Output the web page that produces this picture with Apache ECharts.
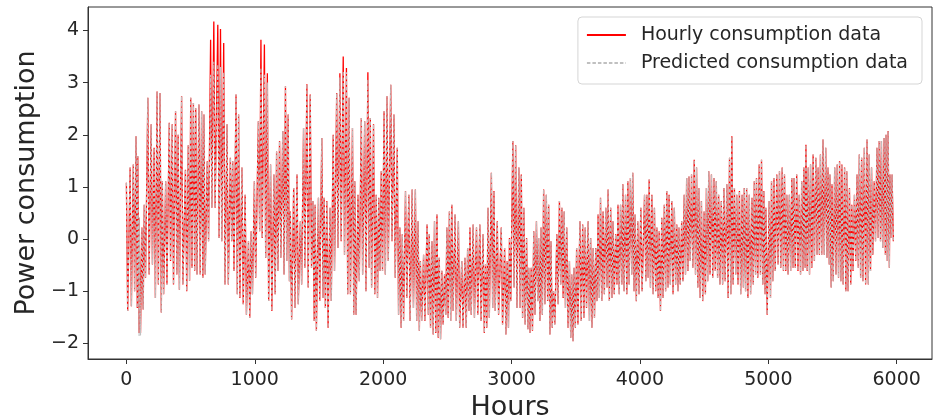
<!DOCTYPE html>
<html><head><meta charset="utf-8">
<script src="https://cdn.jsdelivr.net/npm/echarts@6/dist/echarts.min.js"></script>
<style>html,body{margin:0;padding:0;background:#fff}#c{width:933px;height:417px}</style>
</head><body><div id="c"></div>
<script>
// Hour of each daily reading (high value at this hour, low value half a day later)
const hours = [
0,29,54,75,89,100,121,139,167,193,216,239,262,280,306,334,357,383,403,430,
460,482,501,522,540,565,586,604,630,656,681,712,733,758,784,810,828,854,874,900,
925,951,972,997,
1028,1048,1075,1098,1123,1149,1170,1193,1218,1239,1260,1277,1303,1329,1355,1380,1406,1432,1453,1470,
1496,1522,1540,1561,1586,1611,1638,1663,1689,1714,1735,1761,1779,1804,1830,1856,1881,1900,1925,1946,
1966,1985,
2007,2030,2059,2084,2110,2130,2149,2174,2200,2226,2251,2272,2290,2315,2342,2359,2380,2400,2419,2437,
2457,2478,2496,2516,2535,2560,2586,2612,2637,2658,2676,2701,2727,2753,2778,2797,2817,2843,2863,2889,
2920,2946,2966,2984,
3010,3032,3057,3076,3096,3117,3134,3153,3173,3194,3211,3230,3250,3271,3289,3307,3327,3353,3373,3392,
3410,3430,3451,3469,3487,3507,3533,3554,3574,3597,3616,3636,3656,3674,3693,3713,3734,3752,3772,3790,
3811,3829,3849,3867,3888,3906,3926,3944,3962,3983,
4007,4036,4054,4072,4093,4113,4132,4150,4170,4190,4209,4227,4248,4268,4287,4304,4325,4345,4364,4382,
4402,4423,4441,4459,4479,4500,4518,4536,4557,4577,4595,4613,4634,4654,4677,4698,4716,4736,4754,4775,
4796,4813,4831,4852,4873,4891,4908,4929,4947,4965,4981,
5007,5025,5044,5066,5087,5108,5126,5144,5164,5183,5200,5221,5241,5260,5277,5293,5311,5329,5349,5370,
5388,5406,5426,5447,5465,5480,5496,5517,5537,5555,5573,5594,5611,5632,5650,5671,5691,5709,5727,5748,
5769,5786,5804,5825,5846,5864,5881,5902,5917,5933,5948,5964
];
const actualHigh = [
1.08,1.37,1.43,1.97,1.59,0.41,0.22,0.66,2.71,2.20,1.75,2.83,2.80,1.11,1.11,2.23,2.20,2.45,2.00,2.74,
1.33,1.80,2.71,2.61,2.51,2.58,2.45,2.39,1.49,3.82,4.17,4.11,4.03,3.76,2.20,1.56,1.49,2.77,2.39,1.37,
0.85,-0.04,0.15,1.11,
2.26,3.82,3.73,3.18,1.43,1.24,1.68,1.88,2.07,2.93,2.39,0.53,0.98,1.24,0.34,2.13,2.97,2.77,0.73,0.66,
0.79,1.94,0.79,0.73,0.60,2.00,2.80,3.18,3.50,3.28,2.71,2.13,1.11,0.85,2.32,2.26,3.20,2.32,2.20,0.85,
0.79,1.30,
2.45,2.74,2.96,2.39,1.75,0.22,0.09,0.92,0.85,0.95,0.95,0.34,-0.42,-0.30,0.28,0.09,-0.04,0.34,0.47,-0.36,
-0.61,-0.68,0.22,0.53,0.66,0.47,0.34,-0.42,-0.36,-0.17,0.22,0.28,0.22,0.28,0.09,-0.49,0.60,1.27,0.92,0.34,
0.22,-0.17,-0.42,0.02,
1.88,1.80,1.37,1.24,0.60,0.02,-0.55,-0.55,0.15,0.34,0.02,0.22,0.95,0.85,0.66,-0.04,-1.00,0.09,0.73,0.60,
0.53,0.22,-0.42,-0.68,-0.55,-0.17,0.34,0.28,0.22,0.34,0.02,-0.17,-0.17,0.47,0.79,0.53,0.60,0.95,0.60,0.34,
0.09,0.66,0.66,1.05,0.85,1.11,1.17,1.27,0.47,0.34,
0.60,0.85,0.85,1.14,0.85,0.60,0.22,0.15,0.41,0.66,0.92,0.85,0.73,0.60,0.28,0.22,0.34,0.85,1.17,1.20,
1.24,1.52,1.37,0.98,0.73,0.53,0.98,1.30,1.24,1.17,1.11,0.85,0.73,0.98,1.05,1.56,1.97,0.98,0.85,0.92,
0.85,0.98,0.98,0.85,0.79,1.11,1.17,1.43,1.52,0.92,0.60,
0.73,1.11,1.17,1.24,1.30,1.37,1.24,0.85,0.85,1.17,1.17,1.24,0.85,1.11,1.37,1.81,1.37,1.43,1.62,1.56,
1.37,1.62,1.91,1.75,1.37,1.24,1.05,1.37,1.43,1.49,1.43,1.37,1.30,0.98,0.66,0.85,1.24,1.62,1.56,1.75,
1.91,1.62,1.37,1.11,1.75,1.88,1.88,1.94,2.00,2.07,1.24,1.24
];
const actualLow = [
-1.38,-1.29,-1.00,-1.32,-1.80,-1.80,-1.35,-0.74,-0.68,-0.49,-1.13,-0.87,-1.41,-1.06,-0.87,-0.42,-0.87,-0.68,-0.97,-0.87,
-1.00,-0.80,-0.55,-0.61,-0.68,-0.68,-0.74,-0.68,-0.04,0.60,0.60,0.02,-0.04,-0.87,-0.87,-0.04,-0.61,-1.06,-1.13,-1.25,
-1.45,-1.51,-1.06,-0.74,
0.15,0.02,-0.36,-1.19,-1.38,-1.06,-0.61,-0.36,-0.68,-0.42,-0.81,-1.54,-1.32,-1.25,-0.87,-0.55,-0.93,-0.55,-1.57,-1.76,
-1.19,-1.13,-1.32,-1.70,-1.19,-0.61,-0.17,-0.04,-0.30,-1.06,-1.06,-1.45,-1.45,-0.81,-0.68,-1.00,-0.55,-0.93,-1.06,-1.13,
-0.61,-0.61,
-0.68,-0.42,-0.04,-0.74,-1.45,-1.70,-1.57,-1.13,-1.57,-1.32,-1.57,-1.76,-1.57,-1.57,-1.45,-1.70,-1.83,-1.80,-1.89,-1.92,
-1.64,-1.45,-1.51,-1.57,-1.38,-1.57,-1.70,-1.70,-1.70,-1.38,-1.45,-1.51,-1.45,-1.57,-1.80,-1.70,-1.51,-1.32,-1.38,-1.45,
-1.64,-1.83,-1.70,-1.19,
-0.93,-1.32,-1.32,-1.51,-1.64,-1.73,-1.80,-1.76,-1.45,-1.19,-1.57,-1.45,-1.25,-1.19,-1.83,-1.70,-1.64,-1.25,-0.87,-1.13,
-1.32,-1.70,-1.89,-1.96,-1.70,-1.64,-1.57,-1.51,-1.32,-1.57,-1.70,-1.51,-1.19,-1.13,-1.19,-1.06,-0.93,-1.19,-1.13,-1.06,
-0.87,-1.06,-0.87,-1.00,-1.06,-0.87,-0.68,-1.00,-1.19,-1.06,
-1.00,-0.81,-0.74,-0.93,-1.06,-1.00,-1.13,-1.38,-1.13,-1.00,-0.93,-0.87,-1.06,-0.87,-1.00,-0.87,-0.81,-0.68,-0.61,-0.42,
-0.55,-0.68,-0.93,-1.13,-1.19,-1.06,-0.81,-0.68,-0.74,-0.61,-0.74,-0.87,-0.87,-0.81,-1.13,-1.06,-0.87,-0.68,-0.87,-1.06,
-0.93,-1.00,-1.13,-1.06,-0.87,-0.68,-0.74,-0.68,-0.87,-1.06,-1.45,
-1.13,-0.81,-0.61,-0.49,-0.55,-0.61,-0.61,-0.68,-0.61,-0.55,-0.55,-0.61,-0.68,-0.61,-0.55,-0.61,-0.68,-0.55,-0.42,-0.30,
-0.30,-0.30,-0.30,-0.36,-0.49,-0.93,-0.81,-0.68,-0.74,-0.81,-0.87,-1.00,-1.00,-0.87,-0.61,-0.42,-0.55,-0.74,-0.81,-0.87,
-0.87,-0.61,-0.30,-0.04,0.02,-0.04,-0.17,-0.30,-0.42,-0.55,0.02,-0.04
];
const predHigh = [
1.08,1.37,1.43,1.97,1.59,0.41,0.22,0.66,2.71,2.20,1.75,2.83,2.80,1.11,1.11,2.23,2.20,2.45,2.00,2.74,
1.33,1.80,2.71,2.61,2.51,2.58,2.45,2.39,1.49,3.15,3.40,3.35,3.30,3.20,2.20,1.56,1.49,2.77,2.39,1.37,
0.85,-0.04,0.15,1.11,
2.26,3.28,3.15,3.00,1.43,1.24,1.68,1.88,2.07,2.93,2.39,0.53,0.98,1.24,0.34,2.13,2.97,2.77,0.73,0.66,
0.79,1.94,0.79,0.73,0.60,2.00,2.80,3.10,3.22,3.20,2.71,2.13,1.11,0.85,2.32,2.26,3.06,2.32,2.20,0.85,
0.79,1.30,
2.45,2.74,2.96,2.39,1.75,0.22,0.09,0.92,0.85,0.95,0.95,0.34,-0.42,-0.30,0.28,0.09,-0.04,0.34,0.47,-0.36,
-0.61,-0.68,0.22,0.53,0.66,0.47,0.34,-0.42,-0.36,-0.17,0.22,0.28,0.22,0.28,0.09,-0.49,0.60,1.27,0.92,0.34,
0.22,-0.17,-0.42,0.02,
1.88,1.80,1.37,1.24,0.60,0.02,-0.55,-0.55,0.15,0.34,0.02,0.22,0.95,0.85,0.66,-0.04,-1.00,0.09,0.73,0.60,
0.53,0.22,-0.42,-0.68,-0.55,-0.17,0.34,0.28,0.22,0.34,0.02,-0.17,-0.17,0.47,0.79,0.53,0.60,0.95,0.60,0.34,
0.09,0.66,0.66,1.05,0.85,1.11,1.17,1.27,0.47,0.34,
0.60,0.85,0.85,1.14,0.85,0.60,0.22,0.15,0.41,0.66,0.92,0.85,0.73,0.60,0.28,0.22,0.34,0.85,1.17,1.20,
1.24,1.52,1.37,0.98,0.73,0.53,0.98,1.30,1.24,1.17,1.11,0.85,0.73,0.98,1.05,1.56,1.97,0.98,0.85,0.92,
0.85,0.98,0.98,0.85,0.79,1.11,1.17,1.43,1.52,0.92,0.60,
0.73,1.11,1.17,1.24,1.30,1.37,1.24,0.85,0.85,1.17,1.17,1.24,0.85,1.11,1.37,1.81,1.37,1.43,1.62,1.56,
1.37,1.62,1.91,1.75,1.37,1.24,1.05,1.37,1.43,1.49,1.43,1.37,1.30,0.98,0.66,0.85,1.24,1.62,1.56,1.75,
1.91,1.62,1.37,1.11,1.75,1.88,1.88,1.94,2.00,2.07,1.24,1.24
];
const predLow = [
-1.38,-1.29,-1.00,-1.32,-1.86,-1.85,-1.35,-0.74,-0.68,-0.49,-1.13,-0.87,-1.41,-1.06,-0.87,-0.42,-0.87,-0.68,-0.97,-0.87,
-1.00,-0.80,-0.55,-0.61,-0.68,-0.68,-0.74,-0.68,-0.04,0.60,0.60,0.02,-0.04,-0.87,-0.87,-0.04,-0.61,-1.06,-1.13,-1.25,
-1.45,-1.51,-1.06,-0.74,
0.15,0.02,-0.36,-1.19,-1.38,-1.06,-0.61,-0.36,-0.68,-0.42,-0.81,-1.54,-1.32,-1.25,-0.87,-0.55,-0.93,-0.55,-1.57,-1.76,
-1.19,-1.13,-1.32,-1.70,-1.19,-0.61,-0.17,-0.04,-0.30,-1.06,-1.06,-1.45,-1.45,-0.81,-0.68,-1.00,-0.55,-0.93,-1.06,-1.13,
-0.61,-0.61,
-0.68,-0.42,-0.04,-0.74,-1.45,-1.70,-1.57,-1.13,-1.57,-1.32,-1.57,-1.76,-1.57,-1.57,-1.45,-1.70,-1.83,-1.80,-1.89,-1.92,
-1.64,-1.45,-1.51,-1.57,-1.38,-1.57,-1.70,-1.70,-1.70,-1.38,-1.45,-1.51,-1.45,-1.57,-1.80,-1.70,-1.51,-1.32,-1.38,-1.45,
-1.64,-1.83,-1.70,-1.19,
-0.93,-1.32,-1.32,-1.51,-1.64,-1.73,-1.80,-1.76,-1.45,-1.19,-1.57,-1.45,-1.25,-1.19,-1.83,-1.70,-1.64,-1.25,-0.87,-1.13,
-1.32,-1.70,-1.89,-1.96,-1.70,-1.64,-1.57,-1.51,-1.32,-1.57,-1.70,-1.51,-1.19,-1.13,-1.19,-1.06,-0.93,-1.19,-1.13,-1.06,
-0.87,-1.06,-0.87,-1.00,-1.06,-0.87,-0.68,-1.00,-1.19,-1.06,
-1.00,-0.81,-0.74,-0.93,-1.06,-1.00,-1.13,-1.38,-1.13,-1.00,-0.93,-0.87,-1.06,-0.87,-1.00,-0.87,-0.81,-0.68,-0.61,-0.42,
-0.55,-0.68,-0.93,-1.13,-1.19,-1.06,-0.81,-0.68,-0.74,-0.61,-0.74,-0.87,-0.87,-0.81,-1.13,-1.06,-0.87,-0.68,-0.87,-1.06,
-0.93,-1.00,-1.13,-1.06,-0.87,-0.68,-0.74,-0.68,-0.87,-1.06,-1.45,
-1.13,-0.81,-0.61,-0.49,-0.55,-0.61,-0.61,-0.68,-0.61,-0.55,-0.55,-0.61,-0.68,-0.61,-0.55,-0.61,-0.68,-0.55,-0.42,-0.30,
-0.30,-0.30,-0.30,-0.36,-0.49,-0.93,-0.81,-0.68,-0.74,-0.81,-0.87,-1.00,-1.00,-0.87,-0.61,-0.42,-0.55,-0.74,-0.81,-0.87,
-0.87,-0.61,-0.30,-0.04,0.02,-0.04,-0.17,-0.30,-0.42,-0.55,0.02,-0.04
];
const xTicks = [0, 1000, 2000, 3000, 4000, 5000, 6000];
const yTicks = [-2, -1, 0, 1, 2, 3, 4];
const seriesNames = ['Hourly consumption data', 'Predicted consumption data'];

function dailyPath(h, hi, lo) {
  const out = [];
  for (let i = 0; i < h.length; i++) {
    out.push([h[i], hi[i]]);
    out.push([h[i] + 10, lo[i]]);
  }
  return out;
}

const font = 'DejaVu Sans';
const ink = '#262626';
const chart = echarts.init(document.getElementById('c'), null, { renderer: 'canvas' });
chart.setOption({
  animation: false,
  grid: { left: 88, right: 1, top: 7, bottom: 58, show: true, borderColor: '#333', borderWidth: 1,
    backgroundColor: 'transparent', containLabel: false, outerBoundsMode: 'none' },
  xAxis: {
    type: 'value', min: -299, max: 6275,
    axisLine: { show: true, onZero: false, lineStyle: { color: '#333', width: 1 } },
    axisTick: { show: true, length: 5, customValues: xTicks, lineStyle: { color: '#333' } },
    axisLabel: { customValues: xTicks, fontSize: 19, fontFamily: font, color: ink, margin: 12,
      formatter: v => String(v) },
    splitLine: { show: false },
    name: 'Hours', nameLocation: 'middle', nameGap: 22,
    nameTextStyle: { fontSize: 27, fontFamily: font, color: ink }
  },
  yAxis: {
    type: 'value', min: -2.3, max: 4.45,
    axisLine: { show: true, onZero: false, lineStyle: { color: '#333', width: 1 } },
    axisTick: { show: true, length: 5, customValues: yTicks, lineStyle: { color: '#333' } },
    axisLabel: { customValues: yTicks, fontSize: 19, fontFamily: font, color: ink, margin: 9,
      formatter: v => String(v).replace('-', '\u2212') },
    splitLine: { show: false },
    name: 'Power consumption', nameLocation: 'middle', nameGap: 42, nameRotate: 90,
    nameTextStyle: { fontSize: 27, fontFamily: font, color: ink }
  },
  legend: {
    orient: 'vertical', right: 11, top: 17,
    itemWidth: 39, itemHeight: 14, itemGap: 8,
    padding: [8, 14, 11, 8],
    backgroundColor: '#fff', borderColor: '#d5d5d5', borderWidth: 1, borderRadius: 4,
    itemStyle: { opacity: 0, borderWidth: 0 },
    textStyle: { fontSize: 19, fontFamily: font, color: ink, padding: [0, 0, 0, 10], lineHeight: 20 },
    data: seriesNames
  },
  series: [
    { name: seriesNames[0], type: 'line', symbol: 'none', silent: true,
      data: dailyPath(hours, actualHigh, actualLow),
      lineStyle: { color: '#ff0000', width: 1.3 }, itemStyle: { color: '#ff0000' } },
    { name: seriesNames[1], type: 'line', symbol: 'none', silent: true,
      data: dailyPath(hours, predHigh, predLow),
      lineStyle: { color: '#c0c0c0', width: 1.1, type: [3.5, 2] }, itemStyle: { color: '#c0c0c0' } }
  ]
});
</script>
</body></html>
